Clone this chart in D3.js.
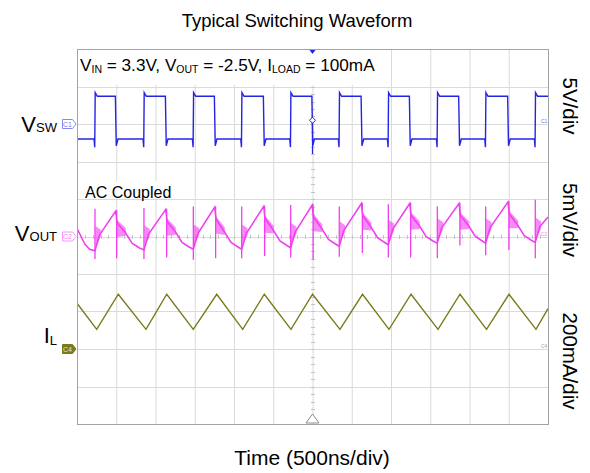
<!DOCTYPE html>
<html>
<head>
<meta charset="utf-8">
<script src="https://cdn.jsdelivr.net/npm/d3@7"></script>
<style>
  body { margin: 0; background: #fff; }
  svg { display: block; }
  text { font-family: "Liberation Sans", Arial, sans-serif; fill: #000; }
</style>
</head>
<body>
<div id="chart"></div>
<script>
// ---- data (time in ns, trigger at 0) ----
var titleText = "Typical Switching Waveform";
var xLabel = "Time (500ns/div)";
var legendParts = [["V", ""], ["IN", "sub"], [" = 3.3V, V", ""], ["OUT", "sub"], [" = -2.5V, I", ""], ["LOAD", "sub"], [" = 100mA", ""]];
var chanNames = [["V", "SW"], ["V", "OUT"], ["I", "L"]];
var chanScales = ["5V/div", "5mV/div", "200mA/div"];
var chanTags = ["C1", "C2", "C4"];

// V_SW (volts): edge times and levels
var swRise = [-2771, -2147, -1518, -902, -278, 341, 966, 1590, 2206, 2838];
var swFall = [-2503, -1866, -1242, -618, 0, 627, 1242, 1870, 2494];
var swHigh = 3.7, swLow = -2.0, swPeak = 4.2, swDip = -3.1;

// V_OUT (mV, AC coupled): main trace, switching spikes, ringing bands
var voutTrace = [
  [-3000, 1.1], [-2900, -1.0], [-2840, -1.7],
  [-2771, -1.9], [-2714, 0.2], [-2507, 3.4], [-2490, 1.8], [-2388, 0.6], [-2299, -0.9], [-2210, -1.5],
  [-2147, -1.8], [-2090, 0.3], [-1870, 3.6], [-1853, 2.0], [-1751, 0.7], [-1662, -0.8], [-1573, -1.4],
  [-1518, -1.7], [-1461, 0.4], [-1246, 3.9], [-1229, 2.3], [-1127, 0.7], [-1038, -0.8], [-949, -1.4],
  [-902, -1.7], [-845, 0.4], [-622, 4.0], [-605, 2.4], [-503, 0.9], [-414, -0.6], [-325, -1.2],
  [-278, -1.5], [-221, 0.6], [-4, 4.2], [13, 2.6], [115, 1.1], [204, -0.4], [293, -1.0],
  [341, -1.3], [398, 0.8], [623, 4.4], [640, 2.8], [742, 1.3], [831, -0.2], [920, -0.8],
  [966, -1.1], [1023, 1.0], [1238, 4.4], [1255, 2.8], [1357, 1.5], [1446, 0.0], [1535, -0.6],
  [1590, -0.9], [1647, 1.2], [1866, 4.4], [1883, 2.8], [1985, 1.5], [2074, 0.0], [2163, -0.6],
  [2206, -0.9], [2263, 1.2], [2490, 4.6], [2507, 3.0], [2609, 1.6], [2698, 0.1], [2787, -0.5],
  [2838, -0.8], [2895, 1.3], [3000, 2.6]
];
var voutSpikes = [
  [-2771, 3.7, -3.0], [-2147, 3.8, -3.0], [-1518, 4.0, -3.1], [-902, 4.0, -2.9], [-278, 4.2, -2.8],
  [341, 4.0, -2.7], [966, 4.3, -2.8], [1590, 4.0, -2.9], [2206, 4.0, -2.5], [2838, 4.9, -2.9],
  [-2495, 3.5, -2.9], [-1858, 3.7, -2.8], [-1234, 4.0, -2.9], [-610, 4.1, -2.6], [8, 4.3, -3.1],
  [635, 4.5, -2.2], [1250, 4.5, -2.8], [1878, 4.5, -1.2], [2502, 4.7, -1.8]
];
// [t0, hi0, lo0, t1, hi1, lo1]
var voutRing = [
  [-2765, 1.4, -1.6, -2696, 0.9, 0.0], [-2141, 1.5, -1.5, -2072, 1.0, 0.1],
  [-1512, 1.6, -1.4, -1443, 1.1, 0.2], [-896, 1.6, -1.4, -827, 1.1, 0.2],
  [-272, 1.8, -1.2, -203, 1.3, 0.4], [347, 2.0, -1.0, 416, 1.5, 0.6],
  [972, 2.2, -0.8, 1041, 1.7, 0.8], [1596, 2.4, -0.6, 1665, 1.9, 1.0],
  [2212, 2.4, -0.6, 2281, 1.9, 1.0], [2844, 2.5, -0.5, 2913, 2.0, 1.1],
  [-2497, 2.3, -0.1, -2378, 1.1, 0.1], [-1860, 2.5, 0.1, -1741, 1.2, 0.2],
  [-1236, 2.8, 0.4, -1117, 1.2, 0.2], [-612, 2.9, 0.5, -493, 1.4, 0.4],
  [6, 3.1, 0.7, 125, 1.6, 0.6], [633, 3.3, 0.9, 752, 1.8, 0.8],
  [1248, 3.3, 0.9, 1367, 2.0, 1.0], [1876, 3.3, 0.9, 1995, 2.0, 1.0],
  [2500, 3.5, 1.1, 2619, 2.1, 1.1]
];

// I_L (mA)
var ilTrace = [
  [-3000, 244], [-2749, 105], [-2474, 292], [-2121, 105], [-1857, 292], [-1519, 105], [-1220, 292],
  [-889, 105], [-614, 292], [-274, 105], [0, 292], [350, 105], [637, 292], [975, 105], [1255, 292],
  [1599, 105], [1879, 292], [2217, 105], [2503, 292], [2847, 105], [3000, 215]
];

// ---- layout ----
var W = 590, H = 473;
var plot = { left: 77, right: 548, top: 49, bottom: 424 };
var colSw = "#2424e6", colOut = "#f23cf2", colIl = "#7a7a1c";

var svg = d3.select("#chart").append("svg")
    .attr("width", W)
    .attr("height", H);

var x = d3.scaleLinear().domain([-3000, 3000]).range([plot.left, plot.right]);
var yDiv = d3.scaleLinear().domain([-5, 5]).range([plot.bottom, plot.top]);
var ySw = d3.scaleLinear().domain([-40, 10]).range([plot.bottom, plot.top]);
var yOut = d3.scaleLinear().domain([-25, 25]).range([plot.bottom, plot.top]);
var yIl = d3.scaleLinear().domain([-400, 1600]).range([plot.bottom, plot.top]);

// grid
var grid = svg.append("g");
grid.selectAll("line.v").data(d3.range(-2500, 3000, 500)).enter().append("line")
    .attr("x1", d => x(d) + 0.5).attr("x2", d => x(d) + 0.5)
    .attr("y1", plot.top).attr("y2", plot.bottom)
    .attr("stroke", "#dadada");
grid.selectAll("line.h").data(d3.range(-4, 5)).enter().append("line")
    .attr("y1", d => Math.round(yDiv(d)) + 0.5).attr("y2", d => Math.round(yDiv(d)) + 0.5)
    .attr("x1", plot.left).attr("x2", plot.right)
    .attr("stroke", "#dadada");

// minor ticks on centre lines
grid.selectAll("line.tv").data(d3.range(-5, 5.01, 0.2)).enter().append("line")
    .attr("x1", x(0) - 1.5).attr("x2", x(0) + 2.5)
    .attr("y1", d => Math.round(yDiv(d)) + 0.5).attr("y2", d => Math.round(yDiv(d)) + 0.5)
    .attr("stroke", "#c4c4c4");
grid.selectAll("line.th").data(d3.range(-3000, 3001, 100)).enter().append("line")
    .attr("x1", d => Math.round(x(d)) + 0.5).attr("x2", d => Math.round(x(d)) + 0.5)
    .attr("y1", yDiv(0) - 1.5).attr("y2", yDiv(0) + 2.5)
    .attr("stroke", "#c4c4c4");

// clip for traces
svg.append("clipPath").attr("id", "clip").append("rect")
    .attr("x", plot.left).attr("y", plot.top)
    .attr("width", plot.right - plot.left).attr("height", plot.bottom - plot.top);
var traces = svg.append("g").attr("clip-path", "url(#clip)");

// V_SW square wave built from the edges
var swEdges = swRise.map(t => ({ t: t, up: true }))
    .concat(swFall.map(t => ({ t: t, up: false })))
    .sort((a, b) => a.t - b.t);
var swPts = [[-3000, swLow]];
swEdges.forEach(e => {
    if (e.up) swPts.push([e.t - 12, swLow], [e.t - 3, swDip], [e.t + 3, swPeak], [e.t + 30, swHigh]);
    else swPts.push([e.t - 8, swHigh], [e.t + 3, swDip + 0.2], [e.t + 25, swLow]);
});
swPts.push([3000, swHigh]);

var line = d3.line().x(d => x(d[0]));

traces.append("path")
    .datum(swPts)
    .attr("fill", "none")
    .attr("stroke", colSw)
    .attr("stroke-width", 1.4)
    .attr("d", line.y(d => ySw(d[1])));

// V_OUT ringing bands
traces.selectAll("path.ring").data(voutRing).enter().append("path")
    .attr("fill", colOut)
    .attr("fill-opacity", 0.6)
    .attr("d", d => "M" + x(d[0]) + "," + yOut(d[1]) + "L" + x(d[3]) + "," + yOut(d[4]) +
        "L" + x(d[3]) + "," + yOut(d[5]) + "L" + x(d[0]) + "," + yOut(d[2]) + "Z");

traces.append("path")
    .datum(voutTrace)
    .attr("fill", "none")
    .attr("stroke", colOut)
    .attr("stroke-width", 1.5)
    .attr("d", line.y(d => yOut(d[1])));

traces.selectAll("line.spike").data(voutSpikes).enter().append("line")
    .attr("x1", d => x(d[0])).attr("x2", d => x(d[0]))
    .attr("y1", d => yOut(d[1])).attr("y2", d => yOut(d[2]))
    .attr("stroke", colOut)
    .attr("stroke-width", 1.3);

// I_L
traces.append("path")
    .datum(ilTrace)
    .attr("fill", "none")
    .attr("stroke", colIl)
    .attr("stroke-width", 1.4)
    .attr("d", line.y(d => yIl(d[1])));

// white boxes behind the notes
svg.append("rect").attr("x", plot.left + 1).attr("y", plot.top + 1)
    .attr("width", 304).attr("height", 35).attr("fill", "#fff");
svg.append("rect").attr("x", plot.left + 1).attr("y", 181)
    .attr("width", 104).attr("height", 17).attr("fill", "#fff");

// frame
svg.append("rect")
    .attr("x", plot.left + 0.5).attr("y", plot.top + 0.5)
    .attr("width", plot.right - plot.left).attr("height", plot.bottom - plot.top)
    .attr("fill", "none")
    .attr("stroke", "#a3a3a3");

// trigger markers
svg.append("path")
    .attr("d", "M" + (x(0) - 3) + "," + (plot.top + 1) + "h6l-3,4z")
    .attr("fill", colSw);
svg.append("line")
    .attr("x1", x(0)).attr("x2", x(0))
    .attr("y1", ySw(0.5)).attr("y2", ySw(-4))
    .attr("stroke", colSw).attr("stroke-width", 1.2);
svg.append("path")
    .attr("d", "M" + x(0) + "," + (ySw(0.5) - 3) + "l3,3l-3,3l-3,-3z")
    .attr("fill", "#fff").attr("stroke", colSw);
svg.append("path")
    .attr("d", "M" + (x(0) - 6.5) + "," + (plot.bottom - 1) + "h13l-6.5,-9z")
    .attr("fill", "#fff").attr("stroke", "#8c8c8c");

// channel ground markers on the left
var chanY = [ySw(0), yOut(0), yIl(0)];
var chanCol = [colSw, colOut, colIl];
chanY.forEach((cy, i) => {
    var g = svg.append("g").attr("transform", "translate(62," + cy + ")");
    g.append("path")
        .attr("d", "M0.5,-4.5h10l3.5,4.5l-3.5,4.5h-10z")
        .attr("fill", i === 2 ? colIl : "#fff")
        .attr("stroke", i === 2 ? colIl : d3.interpolateRgb(chanCol[i], "#fff")(0.45));
    g.append("text")
        .attr("x", 5.5).attr("y", 2.5)
        .attr("text-anchor", "middle")
        .style("font-size", "7px")
        .style("fill", i === 2 ? "#e8e8c0" : d3.interpolateRgb(chanCol[i], "#fff")(0.4))
        .text(chanTags[i]);
    // small tag inside the right edge
    svg.append("text")
        .attr("x", plot.right - 7).attr("y", cy - 1)
        .style("font-size", "5px")
        .style("fill", d3.interpolateRgb(chanCol[i], "#fff")(0.35))
        .text(chanTags[i]);
});

// channel names
var nameBase = [chanY[0] + 8, chanY[1] + 4, chanY[2] - 6];
chanNames.forEach((n, i) => {
    var t = svg.append("text")
        .attr("x", 57).attr("y", nameBase[i])
        .attr("text-anchor", "end")
        .style("font-size", "22px")
        .text(n[0]);
    t.append("tspan")
        .attr("dy", i === 2 ? 2 : 0)
        .style("font-size", "13px")
        .text(n[1]);
});

// volts/div labels
var scaleMid = [106, 220, 361];
chanScales.forEach((s, i) => {
    svg.append("text")
        .attr("transform", "translate(563," + scaleMid[i] + ") rotate(90)")
        .attr("text-anchor", "middle")
        .style("font-size", "20.5px")
        .text(s);
});

// condition legend
var leg = svg.append("text")
    .attr("x", 80).attr("y", 71)
    .style("font-size", "17px");
var sub = false;
legendParts.forEach(p => {
    var isSub = p[1] === "sub";
    leg.append("tspan")
        .attr("dy", isSub === sub ? 0 : (isSub ? 2 : -2))
        .style("font-size", isSub ? "10.5px" : "17.2px")
        .text(p[0]);
    sub = isSub;
});

svg.append("text")
    .attr("x", 85).attr("y", 198)
    .style("font-size", "16px")
    .text("AC Coupled");

// title and x label
svg.append("text")
    .attr("x", 297).attr("y", 26.5)
    .attr("text-anchor", "middle")
    .style("font-size", "18.5px")
    .text(titleText);
svg.append("text")
    .attr("x", 312).attr("y", 465)
    .attr("text-anchor", "middle")
    .style("font-size", "21px")
    .text(xLabel);
</script>
</body>
</html>
